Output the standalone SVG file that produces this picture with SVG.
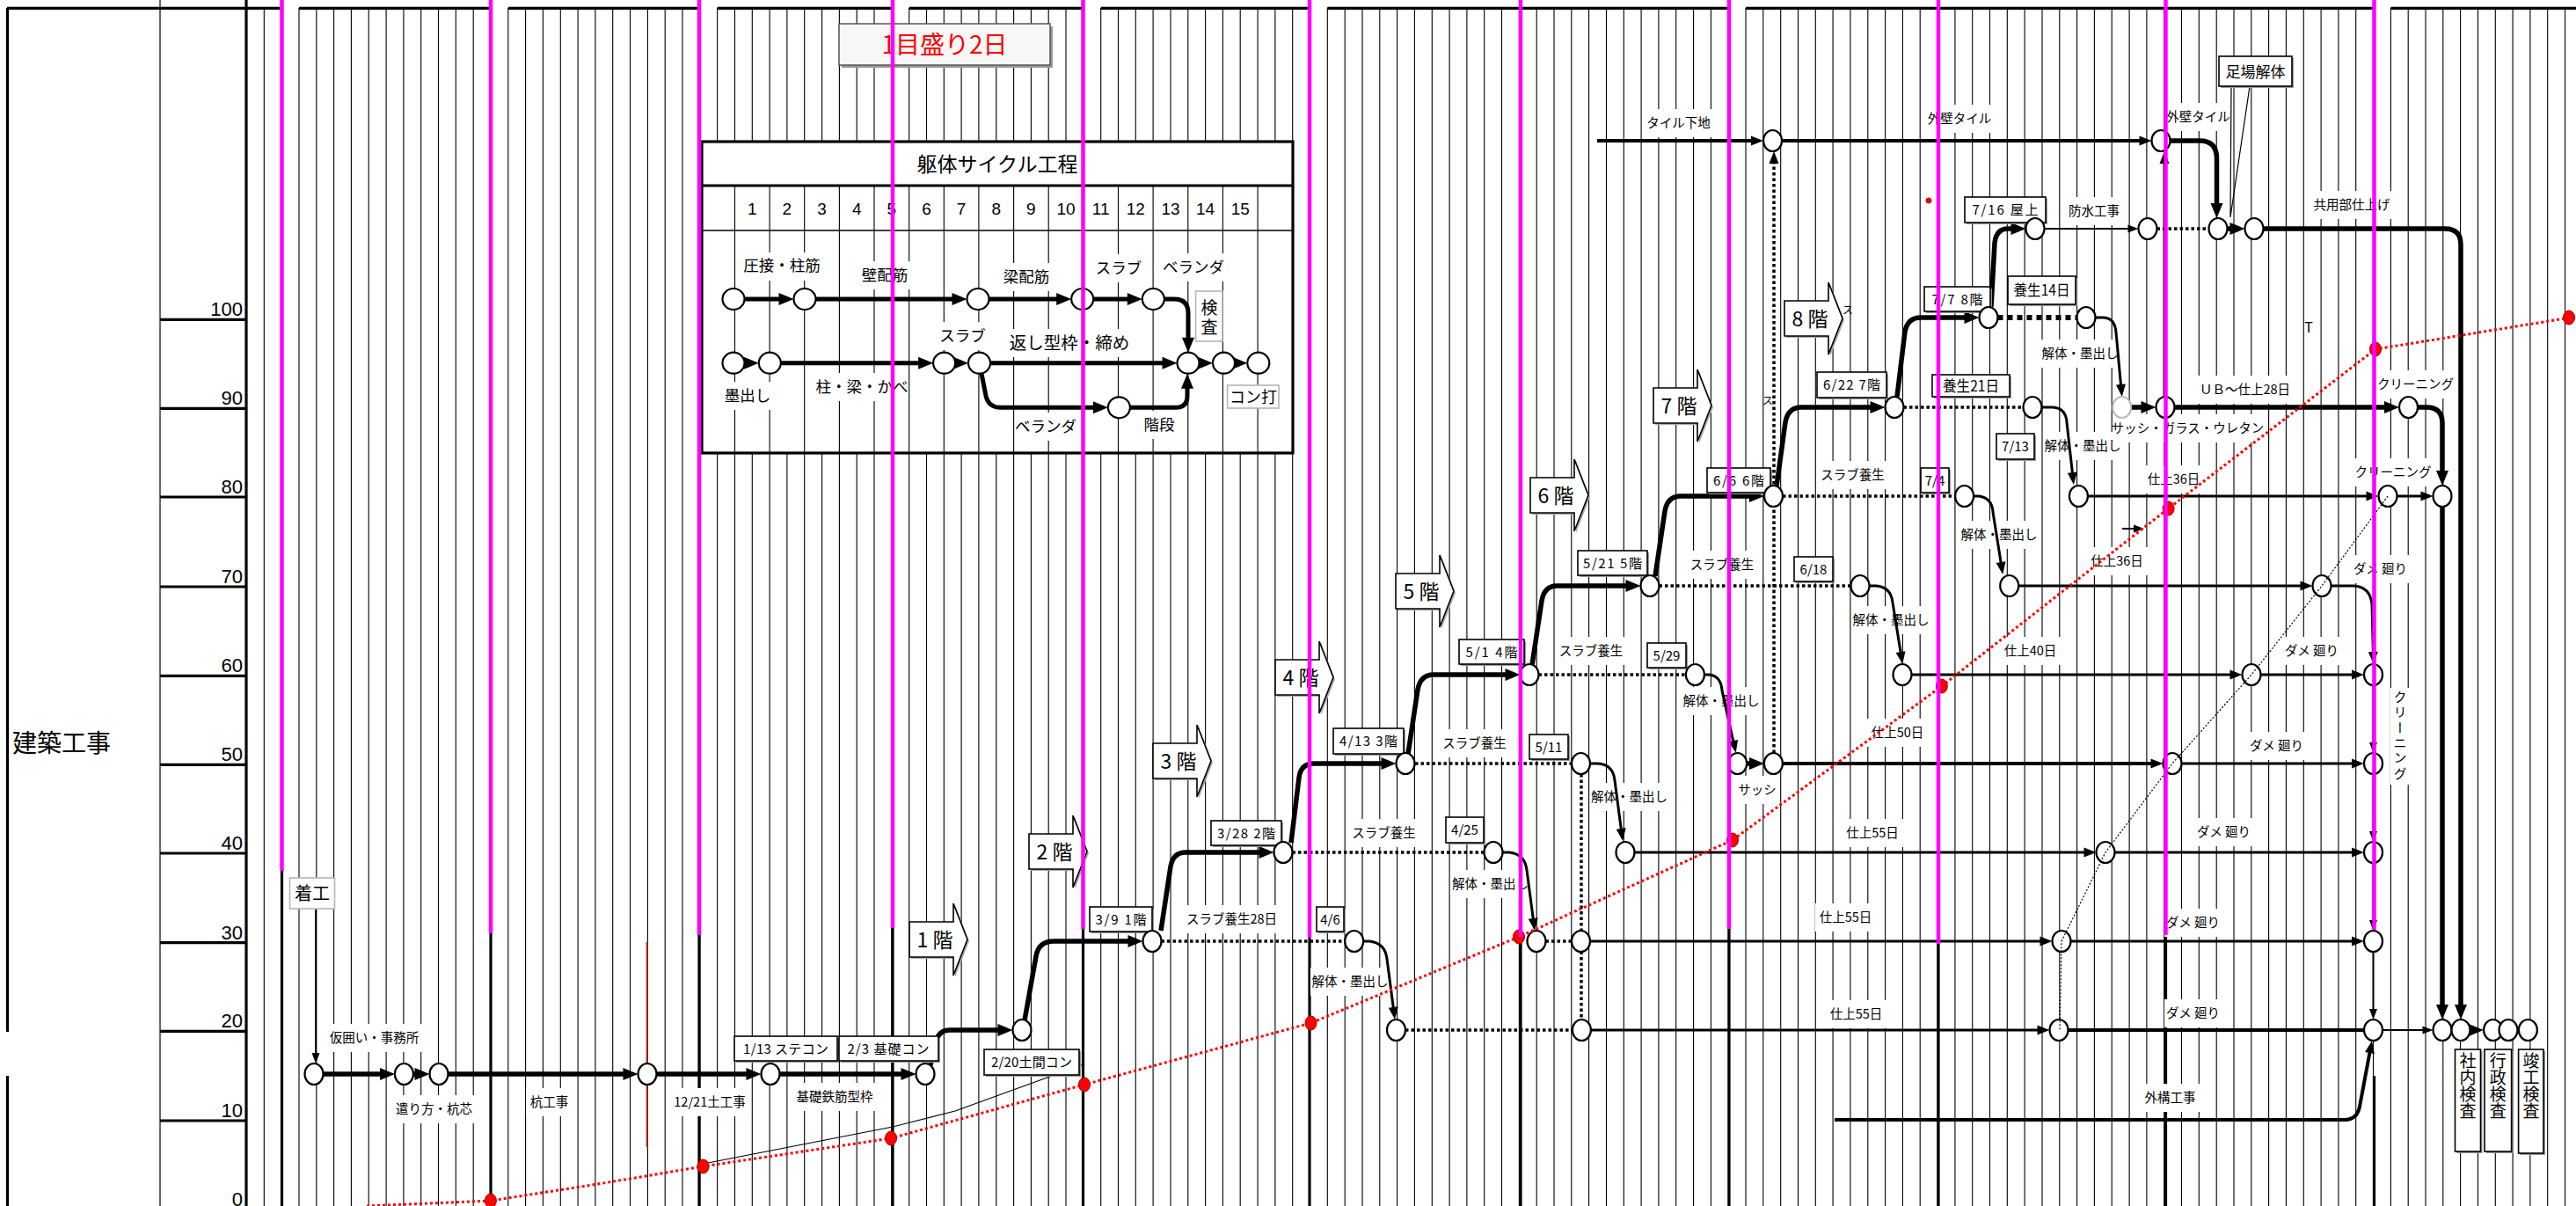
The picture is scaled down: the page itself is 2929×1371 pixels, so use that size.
<svg xmlns="http://www.w3.org/2000/svg" width="2929" height="1371" viewBox="0 0 2929 1371">
<defs>
<style>
.grid{stroke:#000;stroke-width:1.1;fill:none}
.frame{stroke:#000;stroke-width:3.2;fill:none}
.thin{stroke:#000;stroke-width:1.2;fill:none}
.mag{stroke:#ff00ff;stroke-width:4.5;fill:none}
.c6{stroke:#000;stroke-width:5.5;fill:none}
.c5{stroke:#000;stroke-width:5;fill:none}
.c4{stroke:#000;stroke-width:4;fill:none}
.c3{stroke:#000;stroke-width:3;fill:none}
.c2{stroke:#000;stroke-width:2;fill:none}
.dot{stroke:#000;stroke-width:3.5;stroke-dasharray:3.5 3;fill:none}
.hdot{stroke:#000;stroke-width:6;stroke-dasharray:6 5;fill:none}
.fdot{stroke:#000;stroke-width:1.2;stroke-dasharray:2 2;fill:none}
.rdot{stroke:#f00;stroke-width:3;stroke-dasharray:3 3;fill:none}
.nd{fill:#fff;stroke:#000;stroke-width:2.2}
.fd{fill:#fff;stroke:#bbb;stroke-width:2}
.rd{fill:#f00;stroke:#a00;stroke-width:1}
.wb{fill:#fff}
.bx{fill:#fff;stroke:#000;stroke-width:1.6}
.sh{fill:#9a9a9a}
.gbx{fill:#fff;stroke:#b5b5b5;stroke-width:1.6}
.blk{fill:#fff;stroke:#000;stroke-width:1.6}
.blks{fill:#aaa}
text{font-family:"Noto Sans CJK JP","Noto Sans CJK SC",sans-serif;fill:#000}
.lb{font-size:14.5px;text-anchor:middle}
.bt{font-size:15px;text-anchor:middle}
.ax{font-family:"Liberation Sans",Arial,sans-serif;font-size:22px;text-anchor:end}
.fl{font-size:23px;text-anchor:middle}
.cy{font-size:17.5px;text-anchor:middle}
.num{font-family:"Liberation Sans",Arial,sans-serif;font-size:19px;text-anchor:middle}
.vt{font-size:19px;writing-mode:vertical-rl}
</style>
<marker id="ah" markerUnits="userSpaceOnUse" markerWidth="18" markerHeight="15" refX="7" refY="7" orient="auto" overflow="visible"><path d="M0,0 L17,7 L0,14 z" fill="#000"/></marker>
<marker id="am" markerUnits="userSpaceOnUse" markerWidth="15" markerHeight="12" refX="6" refY="5.5" orient="auto" overflow="visible"><path d="M0,0 L14,5.5 L0,11 z" fill="#000"/></marker>
<marker id="as" markerUnits="userSpaceOnUse" markerWidth="13" markerHeight="10" refX="5" refY="4.5" orient="auto" overflow="visible"><path d="M0,0 L12,4.5 L0,9 z" fill="#000"/></marker>
<path id="barrow" d="M0,0 H50 V-21 L66,20 L50,61 V40 H0 Z"/>
</defs>
<rect x="0" y="0" width="2929" height="1371" fill="#fff"/>

<g id="grid">
<path class="grid" d="M300.3 9V1371M320.1 9V1371M340 9V1371M359.8 9V1371M379.6 9V1371M399.4 9V1371M419.2 9V1371M439.1 9V1371M458.9 9V1371M478.7 9V1371M498.5 9V1371M518.3 9V1371M538.2 9V1371M558 9V1371M577.8 9V1371M597.6 9V1371M617.4 9V1371M637.3 9V1371M657.1 9V1371M676.9 9V1371M696.7 9V1371M716.5 9V1371M736.4 9V1371M756.2 9V1371M776 9V1371M795.8 9V1371M815.6 9V1371M835.5 9V1371M855.3 9V1371M875.1 9V1371M894.9 9V1371M914.7 9V1371M934.6 9V1371M954.4 9V1371M974.2 9V1371M994 9V1371M1013.8 9V1371M1033.7 9V1371M1053.5 9V1371M1073.3 9V1371M1093.1 9V1371M1112.9 9V1371M1132.8 9V1371M1152.6 9V1371M1172.4 9V1371M1192.2 9V1371M1212 9V1371M1231.9 9V1371M1251.7 9V1371M1271.5 9V1371M1291.3 9V1371M1311.1 9V1371M1331 9V1371M1350.8 9V1371M1370.6 9V1371M1390.4 9V1371M1410.2 9V1371M1430.1 9V1371M1449.9 9V1371M1469.7 9V1371M1489.5 9V1371M1509.3 9V1371M1529.2 9V1371M1549 9V1371M1568.8 9V1371M1588.6 9V1371M1608.4 9V1371M1628.3 9V1371M1648.1 9V1371M1667.9 9V1371M1687.7 9V1371M1707.5 9V1371M1727.4 9V1371M1747.2 9V1371M1767 9V1371M1786.8 9V1371M1806.6 9V1371M1826.5 9V1371M1846.3 9V1371M1866.1 9V1371M1885.9 9V1371M1905.7 9V1371M1925.6 9V1371M1945.4 9V1371M1965.2 9V1371M1985 9V1371M2004.8 9V1371M2024.7 9V1371M2044.5 9V1371M2064.3 9V1371M2084.1 9V1371M2103.9 9V1371M2123.8 9V1371M2143.6 9V1371M2163.4 9V1371M2183.2 9V1371M2203 9V1371M2222.9 9V1371M2242.7 9V1371M2262.5 9V1371M2282.3 9V1371M2302.1 9V1371M2322 9V1371M2341.8 9V1371M2361.6 9V1371M2381.4 9V1371M2401.2 9V1371M2421.1 9V1371M2440.9 9V1371M2460.7 9V1371M2480.5 9V1371M2500.3 9V1371M2520.2 9V1371M2540 9V1371M2559.8 9V1371M2579.6 9V1371M2599.4 9V1371M2619.3 9V1371M2639.1 9V1371M2658.9 9V1371M2678.7 9V1371M2698.5 9V1371M2718.4 9V1371M2738.2 9V1371M2758 9V1371M2777.8 9V1371M2797.6 9V1371M2817.5 9V1371M2837.3 9V1371M2857.1 9V1371M2876.9 9V1371M2896.7 9V1371M2916.6 9V1371"/>
<path class="frame" d="M8,9.3 H320 M340,9.3 H558 M578,9.3 H795.8 M815.6,9.3 H1013.8 M1033.7,9.3 H1231.9 M1251.7,9.3 H1489.5 M1509.3,9.3 H1965.2 M1985,9.3 H2698.5 M2718.4,9.3 H2929"/>
<path class="frame" d="M8.5,9 V1173 M8.5,1223 V1371 M280,0 V1371"/>
<path class="thin" d="M182,0 V1371"/>
<path class="frame" d="M182,363.3 H280 M182,464.3 H280 M182,565 H280 M182,667 H280 M182,768.3 H280 M182,869.3 H280 M182,970 H280 M182,1071.7 H280 M182,1172.3 H280 M182,1274 H280"/>
<path class="frame" d="M320.5,990 V1371 M558,1061 V1371 M795,1063 V1371 M1015,1055 V1371 M1231.5,1056 V1371 M1489,1066 V1371 M1729,1065 V1371 M1966,1056 V1371 M2204,1073 V1371 M2462.5,1063 V1371 M2699.5,1223 V1371"/>
</g>

<g id="axis-labels">
<text class="ax" x="276" y="359">100</text>
<text class="ax" x="276" y="460">90</text>
<text class="ax" x="276" y="561">80</text>
<text class="ax" x="276" y="663">70</text>
<text class="ax" x="276" y="764">60</text>
<text class="ax" x="276" y="865">50</text>
<text class="ax" x="276" y="966">40</text>
<text class="ax" x="276" y="1068">30</text>
<text class="ax" x="276" y="1168">20</text>
<text class="ax" x="276" y="1270">10</text>
<text class="ax" x="276" y="1371">0</text>
<text x="14" y="855" font-size="28">建築工事</text>
</g>

<g id="scale-note">
<rect x="957" y="30" width="240" height="47" class="sh"/>
<rect x="954" y="27" width="240" height="47" fill="#f7f7f7" stroke="#555" stroke-width="1.5"/>
<text x="1074" y="61" font-size="28" text-anchor="middle" style="fill:#ff0000">1目盛り2日</text>
</g>

<g id="cycle">
<rect x="798" y="161" width="672" height="354" fill="#fff" stroke="#000" stroke-width="3.2"/>
<path class="frame" d="M798,211 H1470"/>
<path stroke="#000" stroke-width="1.5" d="M798,262 H1470"/>
<path class="grid" d="M835.5 211V515M875.1 211V515M914.7 211V515M954.4 211V515M994 211V515M1033.7 211V515M1073.3 211V515M1112.9 211V515M1152.6 211V515M1192.2 211V515M1231.9 211V515M1271.5 211V515M1311.1 211V515M1350.8 211V515M1390.4 211V515M1430.1 211V515"/>
<text x="1134" y="195" font-size="23" text-anchor="middle">躯体サイクル工程</text>
<text class="num" x="855.3" y="244">1</text>
<text class="num" x="894.9" y="244">2</text>
<text class="num" x="934.6" y="244">3</text>
<text class="num" x="974.2" y="244">4</text>
<text class="num" x="1013.8" y="244">5</text>
<text class="num" x="1053.5" y="244">6</text>
<text class="num" x="1093.1" y="244">7</text>
<text class="num" x="1132.8" y="244">8</text>
<text class="num" x="1172.4" y="244">9</text>
<text class="num" x="1212" y="244">10</text>
<text class="num" x="1251.7" y="244">11</text>
<text class="num" x="1291.3" y="244">12</text>
<text class="num" x="1331" y="244">13</text>
<text class="num" x="1370.6" y="244">14</text>
<text class="num" x="1410.2" y="244">15</text>
<rect class="wb" x="844" y="287" width="90" height="32"/>
<rect class="wb" x="975" y="297" width="63" height="32"/>
<rect class="wb" x="1137" y="299" width="60" height="32"/>
<rect class="wb" x="1246" y="289" width="52" height="32"/>
<rect class="wb" x="1322" y="288" width="70" height="32"/>
<rect class="wb" x="822" y="434" width="56" height="32"/>
<rect class="wb" x="932" y="424" width="97" height="32"/>
<rect class="wb" x="1068" y="366" width="53" height="32"/>
<rect class="wb" x="1147" y="374" width="137" height="32"/>
<rect class="wb" x="1154" y="469" width="71" height="32"/>
<rect class="wb" x="1297" y="467" width="43" height="32"/>
<path class="c5" d="M846.5,340 H892.5" marker-end="url(#ah)"/>
<path class="c5" d="M927.5,340 H1089.5" marker-end="url(#ah)"/>
<path class="c5" d="M1124.5,340 H1208.2" marker-end="url(#ah)"/>
<path class="c5" d="M1243.2,340 H1288.8" marker-end="url(#ah)"/>
<path class="c5" d="M1323.8,340 H1335 Q1351,340 1351,356 V390.7" marker-end="url(#ah)"/>
<path class="c5" d="M846.5,412.7 H852.8" marker-end="url(#ah)"/>
<path class="c5" d="M887.8,412.7 H1051.1" marker-end="url(#ah)"/>
<path class="c5" d="M1086.1,412.7 H1091" marker-end="url(#ah)"/>
<path class="c5" d="M1126,412.7 H1328.5" marker-end="url(#ah)"/>
<path class="c5" d="M1363.5,412.7 H1369" marker-end="url(#ah)"/>
<path class="c5" d="M1404,412.7 H1408.3" marker-end="url(#ah)"/>
<path class="c5" d="M1116,424.7 L1121,450 Q1124,463.3 1138,463.3 H1249.9" marker-end="url(#ah)"/>
<path class="c5" d="M1284.9,463.3 H1337 Q1350,463.3 1350,450 V434.7" marker-end="url(#ah)"/>
<g id="cn1"><ellipse class="nd" cx="834" cy="340" rx="12.5" ry="12"/></g>
<g id="cn2"><ellipse class="nd" cx="915" cy="340" rx="12.5" ry="12"/></g>
<g id="cn3"><ellipse class="nd" cx="1112" cy="340" rx="12.5" ry="12"/></g>
<g id="cn4"><ellipse class="nd" cx="1230.7" cy="340" rx="12.5" ry="12"/></g>
<g id="cn5"><ellipse class="nd" cx="1311.3" cy="340" rx="12.5" ry="12"/></g>
<g id="cm1"><ellipse class="nd" cx="834" cy="412.7" rx="12.5" ry="12"/></g>
<g id="cm2"><ellipse class="nd" cx="875.3" cy="412.7" rx="12.5" ry="12"/></g>
<g id="cm3"><ellipse class="nd" cx="1073.6" cy="412.7" rx="12.5" ry="12"/></g>
<g id="cm4"><ellipse class="nd" cx="1113.5" cy="412.7" rx="12.5" ry="12"/></g>
<g id="cm5"><ellipse class="nd" cx="1351" cy="412.7" rx="12.5" ry="12"/></g>
<g id="cm6"><ellipse class="nd" cx="1391.5" cy="412.7" rx="12.5" ry="12"/></g>
<g id="cm7"><ellipse class="nd" cx="1430.8" cy="412.7" rx="12.5" ry="12"/></g>
<g id="cp1"><ellipse class="nd" cx="1272.4" cy="463.3" rx="12.5" ry="12"/></g>
<g id="c-kensa"><rect class="gbx" x="1359.6" y="331" width="30.4" height="57"/><text x="1375" y="357" font-size="19" text-anchor="middle">検</text><text x="1375" y="379" font-size="19" text-anchor="middle">査</text></g>
<g id="c-konuchi"><rect class="gbx" x="1395.6" y="438" width="58.4" height="26"/><text x="1425" y="458" font-size="18" text-anchor="middle">コン打</text></g>
<text class="cy" x="889" y="308">圧接・柱筋</text>
<text class="cy" x="1006" y="319">壁配筋</text>
<text class="cy" x="1167" y="321">梁配筋</text>
<text class="cy" x="1272" y="311">スラブ</text>
<text class="cy" x="1357" y="310">ベランダ</text>
<text class="cy" x="850" y="456">墨出し</text>
<text class="cy" x="980" y="446">柱・梁・かべ</text>
<text class="cy" x="1094.5" y="388">スラブ</text>
<text x="1216" y="397" font-size="19.5" text-anchor="middle">返し型枠・締め</text>
<text class="cy" x="1189" y="491">ベランダ</text>
<text class="cy" x="1318" y="489">階段</text>
</g>

<g id="label-bg">
<rect class="wb" x="371" y="1164" width="109" height="32"/>
<rect class="wb" x="448" y="1245" width="91" height="32"/>
<rect class="wb" x="598" y="1237" width="53" height="32"/>
<rect class="wb" x="760" y="1237" width="94" height="32"/>
<rect class="wb" x="898" y="1231" width="102" height="32"/>
<rect class="wb" x="1346" y="1029" width="109" height="32"/>
<rect class="wb" x="1534" y="931" width="79" height="32"/>
<rect class="wb" x="1649" y="989" width="91" height="32"/>
<rect class="wb" x="1490" y="1100" width="90" height="32"/>
<rect class="wb" x="1637" y="829" width="79" height="32"/>
<rect class="wb" x="1808" y="890" width="89" height="32"/>
<rect class="wb" x="1770" y="724" width="78" height="32"/>
<rect class="wb" x="1912" y="781" width="90" height="32"/>
<rect class="wb" x="1975" y="882" width="46" height="32"/>
<rect class="wb" x="1919" y="626" width="78" height="32"/>
<rect class="wb" x="2106" y="689" width="88" height="32"/>
<rect class="wb" x="2066" y="524" width="81" height="32"/>
<rect class="wb" x="2229" y="592" width="88" height="32"/>
<rect class="wb" x="2323" y="491" width="90" height="32"/>
<rect class="wb" x="2321" y="386" width="88" height="32"/>
<rect class="wb" x="1869" y="124" width="79" height="32"/>
<rect class="wb" x="2188" y="119" width="80" height="32"/>
<rect class="wb" x="2461" y="117" width="77" height="32"/>
<rect class="wb" x="2346" y="224" width="70" height="32"/>
<rect class="wb" x="2623" y="217" width="102" height="32"/>
<rect class="wb" x="2407" y="471" width="161" height="32"/>
<rect class="wb" x="2499" y="427" width="107" height="32"/>
<rect class="wb" x="2702" y="421" width="89" height="32"/>
<rect class="wb" x="2677" y="521" width="88" height="32"/>
<rect class="wb" x="2438" y="529" width="67" height="32"/>
<rect class="wb" x="2372" y="622" width="70" height="32"/>
<rect class="wb" x="2674" y="631" width="65" height="32"/>
<rect class="wb" x="2274" y="724" width="69" height="32"/>
<rect class="wb" x="2595" y="724" width="67" height="32"/>
<rect class="wb" x="2123" y="817" width="69" height="32"/>
<rect class="wb" x="2557" y="832" width="63" height="32"/>
<rect class="wb" x="2718" y="782" width="22" height="110"/>
<rect class="wb" x="2094" y="931" width="70" height="32"/>
<rect class="wb" x="2496" y="930" width="65" height="32"/>
<rect class="wb" x="2064" y="1027" width="69" height="32"/>
<rect class="wb" x="2461" y="1033" width="65" height="32"/>
<rect class="wb" x="2076" y="1137" width="69" height="32"/>
<rect class="wb" x="2461" y="1136" width="65" height="32"/>
<rect class="wb" x="2433" y="1232" width="69" height="32"/>
</g>

<g id="floor-arrows">
<g id="fa1" transform="translate(1034,1048)"><use href="#barrow" class="blks" x="2" y="2"/><use href="#barrow" class="blk"/><text class="fl" x="29" y="29">1 階</text></g>
<g id="fa2" transform="translate(1170,948)"><use href="#barrow" class="blks" x="2" y="2"/><use href="#barrow" class="blk"/><text class="fl" x="29" y="29">2 階</text></g>
<g id="fa3" transform="translate(1311,845)"><use href="#barrow" class="blks" x="2" y="2"/><use href="#barrow" class="blk"/><text class="fl" x="29" y="29">3 階</text></g>
<g id="fa4" transform="translate(1450,750)"><use href="#barrow" class="blks" x="2" y="2"/><use href="#barrow" class="blk"/><text class="fl" x="29" y="29">4 階</text></g>
<g id="fa5" transform="translate(1587,652)"><use href="#barrow" class="blks" x="2" y="2"/><use href="#barrow" class="blk"/><text class="fl" x="29" y="29">5 階</text></g>
<g id="fa6" transform="translate(1740,543)"><use href="#barrow" class="blks" x="2" y="2"/><use href="#barrow" class="blk"/><text class="fl" x="29" y="29">6 階</text></g>
<g id="fa7" transform="translate(1880,441)"><use href="#barrow" class="blks" x="2" y="2"/><use href="#barrow" class="blk"/><text class="fl" x="29" y="29">7 階</text></g>
<g id="fa8" transform="translate(2029,342)"><use href="#barrow" class="blks" x="2" y="2"/><use href="#barrow" class="blk"/><text class="fl" x="29" y="29">8 階</text></g>
</g>

<g id="connectors">
<path class="c2" d="M359,1034 V1202" marker-end="url(#as)"/>
<path class="c6" d="M367.5,1221 H439" marker-end="url(#ah)"/>
<path class="c6" d="M470,1221 H478.5" marker-end="url(#ah)"/>
<path class="c6" d="M509.5,1221 H715.5" marker-end="url(#ah)"/>
<path class="c6" d="M746.5,1221 H855.5" marker-end="url(#ah)"/>
<path class="c6" d="M886.5,1221 H1031.5" marker-end="url(#ah)"/>
<path class="c6" d="M1058,1211 L1064,1185 Q1067,1171 1080,1171 H1141.5" marker-end="url(#ah)"/>
<path class="c6" d="M1165,1160 L1178,1087 Q1181,1070 1198,1070 H1289.5" marker-end="url(#ah)"/>
<path class="c6" d="M1320,1058 L1331,985 Q1334,969 1348,969 H1438.5" marker-end="url(#ah)"/>
<path class="c6" d="M1468,958 L1477,884 Q1479,868 1494,868 H1577.5" marker-end="url(#ah)"/>
<path class="c6" d="M1601,857 L1612,784 Q1615,767 1630,767 H1718.5" marker-end="url(#ah)"/>
<path class="c6" d="M1742,756 L1753,683 Q1756,666 1770,666 H1855.5" marker-end="url(#ah)"/>
<path class="c6" d="M1882,655 L1893,581 Q1896,564 1911,564 H1996" marker-end="url(#ah)"/>
<path class="c6" d="M2020,553 L2030,480 Q2033,463 2048,463 H2133.5" marker-end="url(#ah)"/>
<path class="c6" d="M2157,451 L2166,377 Q2169,361 2184,361 H2240.5" marker-end="url(#ah)"/>
<path class="c6" d="M2264,349 L2268,276 Q2270,260 2283,260 H2293.5" marker-end="url(#ah)"/>
<path class="c2" d="M2324.5,260 H2424.5" marker-end="url(#as)"/>
<path class="dot" d="M2452.5,260 H2511.5"/>
<path class="c6" d="M2532.5,260 H2542.5" marker-end="url(#ah)"/>
<path class="c6" d="M2573.5,260 H2780 Q2798,260 2798,278 V1149" marker-end="url(#ah)"/>
<path class="c4" d="M1816,160 H1997" marker-end="url(#am)"/>
<path class="c4" d="M2026,160 H2438.5" marker-end="url(#am)"/>
<path class="c6" d="M2467.5,160 H2501 Q2520.5,160 2520.5,180 V238" marker-end="url(#ah)"/>
<path class="dot" d="M2017,856 V180" marker-end="url(#am)"/>
<path class="c3" d="M2461,451 V180" marker-end="url(#am)"/>
<path class="hdot" d="M2271.5,361 H2361.5"/>
<path class="c3" d="M2382.5,361 H2392 Q2405,362 2406,378 L2412,443" marker-end="url(#am)"/>
<path class="dot" d="M2164.5,463 H2300.5"/>
<path class="c3" d="M2321.5,463 H2334 Q2349,464 2350,480 L2357,543" marker-end="url(#am)"/>
<path class="c6" d="M2423,463 H2441.5" marker-end="url(#ah)"/>
<path class="c6" d="M2472.5,463 H2718" marker-end="url(#ah)"/>
<path class="c6" d="M2749,463 H2759 Q2777,463 2777,481 V542" marker-end="url(#ah)"/>
<path class="c6" d="M2777,576 V1149" marker-end="url(#ah)"/>
<path class="dot" d="M2027,564 H2223"/>
<path class="c3" d="M2244,564 H2250 Q2265,566 2266,582 L2276,645" marker-end="url(#am)"/>
<path class="c3" d="M2374,564 H2696.5" marker-end="url(#am)"/>
<path class="c3" d="M2725.5,564 H2758.5" marker-end="url(#am)"/>
<path class="dot" d="M1886.5,666 H2104.5"/>
<path class="c3" d="M2125.5,666 H2133 Q2150,667 2152,685 L2162,747" marker-end="url(#am)"/>
<path class="c3" d="M2295,666 H2621.5" marker-end="url(#am)"/>
<path class="c3" d="M2650.5,666 H2676 Q2695,667 2697,687 L2698.5,747" marker-end="url(#am)"/>
<path class="dot" d="M1749.5,767 H1917"/>
<path class="c3" d="M1938,767 H1944 Q1957,769 1958,785 L1972,848" marker-end="url(#am)"/>
<path class="c3" d="M2173.5,767 H2541.5" marker-end="url(#am)"/>
<path class="c3" d="M2570.5,767 H2680" marker-end="url(#am)"/>
<path class="c2" d="M2698.5,779 V849" marker-end="url(#as)"/>
<path class="dot" d="M1609,868 H1787"/>
<path class="c3" d="M1808,868 H1817 Q1834,869 1836,887 L1844,948" marker-end="url(#am)"/>
<path class="dot" d="M1798,880 V1159"/>
<path class="c6" d="M1986,868 H1996" marker-end="url(#ah)"/>
<path class="c4" d="M2027,868 H2451.5" marker-end="url(#am)"/>
<path class="c3" d="M2480.5,868 H2680" marker-end="url(#am)"/>
<path class="c2" d="M2698.5,880 V950" marker-end="url(#as)"/>
<path class="dot" d="M1469.5,969 H1687.5"/>
<path class="c3" d="M1708.5,969 H1716 Q1734,971 1736,989 L1744,1050" marker-end="url(#am)"/>
<path class="c3" d="M1858.5,969 H2375.5" marker-end="url(#am)"/>
<path class="c3" d="M2404.5,969 H2680" marker-end="url(#am)"/>
<path class="c2" d="M2698.5,981 V1051" marker-end="url(#as)"/>
<path class="dot" d="M1320.5,1070 H1529"/>
<path class="c3" d="M1550,1070 H1557 Q1575,1072 1577,1090 L1585,1151" marker-end="url(#am)"/>
<path class="dot" d="M1757.5,1070 H1787"/>
<path class="c3" d="M1808,1070 H2325.5" marker-end="url(#am)"/>
<path class="c3" d="M2354.5,1070 H2680" marker-end="url(#am)"/>
<path class="c2" d="M2698.5,1082 V1152" marker-end="url(#as)"/>
<path class="dot" d="M1598,1171 H1788"/>
<path class="c3" d="M1809,1171 H2322.5" marker-end="url(#am)"/>
<path class="c4" d="M2351.5,1171 H2688"/>
<path class="c2" d="M2709,1171 H2759.5" marker-end="url(#as)"/>
<path class="c4" d="M2086,1273 H2666 Q2680,1273 2683,1258 L2695.5,1191" marker-end="url(#am)"/>
<path class="c6" d="M2808.5,1171 H2814" marker-end="url(#ah)"/>
<path class="c2" d="M2413,601 H2431" marker-end="url(#as)"/>
<path class="thin" d="M2537,98 L2536,247 M2558,98 L2536,247"/>
<path class="thin" d="M1232,1210 L1086,1263 L1015,1281 L805,1322"/>
<path d="M735.6,1071 V1304" stroke="#b8332a" stroke-width="2" fill="none"/>
</g>

<g id="date-boxes">
<g id="b-1-13"><rect class="sh" x="837" y="1180" width="117" height="28"/><rect class="bx" x="835" y="1178" width="117" height="28"/><text class="bt" x="893.5" y="1197.5" textLength="97" lengthAdjust="spacing">1/13 ステコン</text></g>
<g id="b-2-3"><rect class="sh" x="956" y="1180" width="113" height="28"/><rect class="bx" x="954" y="1178" width="113" height="28"/><text class="bt" x="1010" y="1197.5" textLength="93" lengthAdjust="spacing">2/3 基礎コン</text></g>
<g id="b-2-20"><rect class="sh" x="1121" y="1195" width="108" height="29"/><rect class="bx" x="1119" y="1193" width="108" height="29"/><text class="bt" x="1173" y="1213" textLength="92" lengthAdjust="spacing">2/20土間コン</text></g>
<g id="b-3-9"><rect class="sh" x="1241" y="1033" width="71" height="28"/><rect class="bx" x="1239" y="1031" width="71" height="28"/><text class="bt" x="1274.5" y="1050.5" textLength="58" lengthAdjust="spacing">3/9 1階</text></g>
<g id="b-3-28"><rect class="sh" x="1379" y="935" width="80" height="28"/><rect class="bx" x="1377" y="933" width="80" height="28"/><text class="bt" x="1417" y="952.5" textLength="66" lengthAdjust="spacing">3/28 2階</text></g>
<g id="b-4-13"><rect class="sh" x="1518" y="830" width="80" height="29"/><rect class="bx" x="1516" y="828" width="80" height="29"/><text class="bt" x="1556" y="848" textLength="66" lengthAdjust="spacing">4/13 3階</text></g>
<g id="b-5-1"><rect class="sh" x="1661" y="729" width="74" height="28"/><rect class="bx" x="1659" y="727" width="74" height="28"/><text class="bt" x="1696" y="746.5" textLength="59" lengthAdjust="spacing">5/1 4階</text></g>
<g id="b-5-21"><rect class="sh" x="1796" y="628" width="79" height="28"/><rect class="bx" x="1794" y="626" width="79" height="28"/><text class="bt" x="1833.5" y="645.5" textLength="67" lengthAdjust="spacing">5/21 5階</text></g>
<g id="b-6-6"><rect class="sh" x="1943" y="534" width="72" height="28"/><rect class="bx" x="1941" y="532" width="72" height="28"/><text class="bt" x="1977" y="551.5" textLength="58" lengthAdjust="spacing">6/6 6階</text></g>
<g id="b-6-22"><rect class="sh" x="2068" y="425" width="79" height="29"/><rect class="bx" x="2066" y="423" width="79" height="29"/><text class="bt" x="2105.5" y="443" textLength="65" lengthAdjust="spacing">6/22 7階</text></g>
<g id="b-7-7"><rect class="sh" x="2190" y="328" width="75" height="28"/><rect class="bx" x="2188" y="326" width="75" height="28"/><text class="bt" x="2225.5" y="345.5" textLength="58" lengthAdjust="spacing">7/7 8階</text></g>
<g id="b-7-16"><rect class="sh" x="2236" y="226" width="92" height="29"/><rect class="bx" x="2234" y="224" width="92" height="29"/><text class="bt" x="2280" y="244" textLength="75" lengthAdjust="spacing">7/16 屋上</text></g>
<g id="b-y14"><rect class="sh" x="2285" y="316" width="77" height="32"/><rect class="bx" x="2283" y="314" width="77" height="32"/><text x="2321.5" y="336" font-size="17" text-anchor="middle" textLength="64" lengthAdjust="spacingAndGlyphs">養生14日</text></g>
<g id="b-y21"><rect class="sh" x="2199" y="428" width="88" height="25"/><rect class="bx" x="2197" y="426" width="88" height="25"/><text x="2241" y="444.5" font-size="17" text-anchor="middle" textLength="64" lengthAdjust="spacingAndGlyphs">養生21日</text></g>
<g id="b-7-13"><rect class="sh" x="2272" y="495" width="43" height="29"/><rect class="bx" x="2270" y="493" width="43" height="29"/><text class="bt" x="2291.5" y="513">7/13</text></g>
<g id="b-7-4"><rect class="sh" x="2186" y="534" width="32" height="28"/><rect class="bx" x="2184" y="532" width="32" height="28"/><text class="bt" x="2200" y="551.5">7/4</text></g>
<g id="b-6-18"><rect class="sh" x="2042" y="635" width="44" height="28"/><rect class="bx" x="2040" y="633" width="44" height="28"/><text class="bt" x="2062" y="652.5">6/18</text></g>
<g id="b-5-29"><rect class="sh" x="1875" y="733" width="44" height="28"/><rect class="bx" x="1873" y="731" width="44" height="28"/><text class="bt" x="1895" y="750.5">5/29</text></g>
<g id="b-5-11"><rect class="sh" x="1741" y="837" width="44" height="28"/><rect class="bx" x="1739" y="835" width="44" height="28"/><text class="bt" x="1761" y="854.5">5/11</text></g>
<g id="b-4-25"><rect class="sh" x="1646" y="931" width="43" height="29"/><rect class="bx" x="1644" y="929" width="43" height="29"/><text class="bt" x="1665.5" y="949">4/25</text></g>
<g id="b-4-6"><rect class="sh" x="1499" y="1033" width="31" height="28"/><rect class="bx" x="1497" y="1031" width="31" height="28"/><text class="bt" x="1512.5" y="1050.5">4/6</text></g>
<g id="b-ashiba"><rect class="sh" x="2525" y="66" width="83" height="34"/><rect class="bx" x="2523" y="64" width="83" height="34"/><text x="2564.5" y="87.5" font-size="17" text-anchor="middle">足場解体</text></g>
<g id="b-chakko"><rect class="gbx" x="329.5" y="998" width="51" height="35"/><text x="355" y="1023" font-size="20" text-anchor="middle">着工</text></g>
<g id="b-shanai"><rect class="sh" x="2793.5" y="1195" width="29" height="116"/><rect class="bx" x="2791.5" y="1193" width="29" height="116"/><text class="vt" x="2806" y="1196">社内検査</text></g>
<g id="b-gyosei"><rect class="sh" x="2827" y="1195" width="30.6" height="116"/><rect class="bx" x="2825" y="1193" width="30.6" height="116"/><text class="vt" x="2840.3" y="1196">行政検査</text></g>
<g id="b-shunko"><rect class="sh" x="2865.6" y="1195" width="28.4" height="118"/><rect class="bx" x="2863.6" y="1193" width="28.4" height="118"/><text class="vt" x="2878" y="1196">竣工検査</text></g>
</g>

<g id="nodes">
<g id="n-chakko"><ellipse class="nd" cx="357" cy="1221" rx="10.5" ry="12"/></g>
<g id="n-karigakoi"><ellipse class="nd" cx="459.4" cy="1221" rx="10.5" ry="12"/></g>
<g id="n-yarikata"><ellipse class="nd" cx="499" cy="1221" rx="10.5" ry="12"/></g>
<g id="n-kui"><ellipse class="nd" cx="736" cy="1221" rx="10.5" ry="12"/></g>
<g id="n-stecon"><ellipse class="nd" cx="876" cy="1221" rx="10.5" ry="12"/></g>
<g id="n-kisocon"><ellipse class="nd" cx="1052" cy="1221" rx="10.5" ry="12"/></g>
<g id="n-domacon"><ellipse class="nd" cx="1162" cy="1171" rx="10.5" ry="12"/></g>
<g id="n-1f"><ellipse class="nd" cx="1310" cy="1070" rx="10.5" ry="12"/></g>
<g id="n-2f"><ellipse class="nd" cx="1459" cy="969" rx="10.5" ry="12"/></g>
<g id="n-3f"><ellipse class="nd" cx="1598" cy="868" rx="10.5" ry="12"/></g>
<g id="n-4f"><ellipse class="nd" cx="1739" cy="767" rx="10.5" ry="12"/></g>
<g id="n-5f"><ellipse class="nd" cx="1876" cy="666" rx="10.5" ry="12"/></g>
<g id="n-6f"><ellipse class="nd" cx="2016.5" cy="564" rx="10.5" ry="12"/></g>
<g id="n-7f"><ellipse class="nd" cx="2154" cy="463" rx="10.5" ry="12"/></g>
<g id="n-8f"><ellipse class="nd" cx="2261" cy="361" rx="10.5" ry="12"/></g>
<g id="n-rf"><ellipse class="nd" cx="2314" cy="260" rx="10.5" ry="12"/></g>
<g id="n-bosui"><ellipse class="nd" cx="2442" cy="260" rx="10.5" ry="12"/></g>
<g id="n-ashiba"><ellipse class="nd" cx="2522" cy="260" rx="10.5" ry="12"/></g>
<g id="n-kyoyo"><ellipse class="nd" cx="2563" cy="260" rx="10.5" ry="12"/></g>
<g id="n-tile1"><ellipse class="nd" cx="2015.5" cy="160" rx="10.5" ry="12"/></g>
<g id="n-tile2"><ellipse class="nd" cx="2457" cy="160" rx="10.5" ry="12"/></g>
<g id="n-y14"><ellipse class="nd" cx="2372" cy="361" rx="10.5" ry="12"/></g>
<g id="n-r90a"><ellipse class="fd" cx="2412.7" cy="463" rx="10.5" ry="12"/></g>
<g id="n-y21"><ellipse class="nd" cx="2311" cy="463" rx="10.5" ry="12"/></g>
<g id="n-r90b"><ellipse class="nd" cx="2462" cy="463" rx="10.5" ry="12"/></g>
<g id="n-r90c"><ellipse class="nd" cx="2738.5" cy="463" rx="10.5" ry="12"/></g>
<g id="n-r80d"><ellipse class="nd" cx="2777" cy="564" rx="10.5" ry="12"/></g>
<g id="n-r80b"><ellipse class="nd" cx="2363.4" cy="564" rx="10.5" ry="12"/></g>
<g id="n-r80a"><ellipse class="nd" cx="2233.6" cy="564" rx="10.5" ry="12"/></g>
<g id="n-r80c"><ellipse class="nd" cx="2715" cy="564" rx="10.5" ry="12"/></g>
<g id="n-r70b"><ellipse class="nd" cx="2284.7" cy="666" rx="10.5" ry="12"/></g>
<g id="n-r70a"><ellipse class="nd" cx="2115" cy="666" rx="10.5" ry="12"/></g>
<g id="n-r70c"><ellipse class="nd" cx="2640" cy="666" rx="10.5" ry="12"/></g>
<g id="n-r60b"><ellipse class="nd" cx="2163" cy="767" rx="10.5" ry="12"/></g>
<g id="n-r60a"><ellipse class="nd" cx="1927.4" cy="767" rx="10.5" ry="12"/></g>
<g id="n-r60c"><ellipse class="nd" cx="2560" cy="767" rx="10.5" ry="12"/></g>
<g id="n-r60d"><ellipse class="nd" cx="2698.5" cy="767" rx="10.5" ry="12"/></g>
<g id="n-sash1"><ellipse class="nd" cx="1975.6" cy="868" rx="10.5" ry="12"/></g>
<g id="n-sash2"><ellipse class="nd" cx="2016.4" cy="868" rx="10.5" ry="12"/></g>
<g id="n-r50a"><ellipse class="nd" cx="1797.5" cy="868" rx="10.5" ry="12"/></g>
<g id="n-r50c"><ellipse class="nd" cx="2470" cy="868" rx="10.5" ry="12"/></g>
<g id="n-r50d"><ellipse class="nd" cx="2698.5" cy="868" rx="10.5" ry="12"/></g>
<g id="n-r40b"><ellipse class="nd" cx="1848" cy="969" rx="10.5" ry="12"/></g>
<g id="n-r40a"><ellipse class="nd" cx="1698" cy="969" rx="10.5" ry="12"/></g>
<g id="n-r40c"><ellipse class="nd" cx="2394" cy="969" rx="10.5" ry="12"/></g>
<g id="n-r40d"><ellipse class="nd" cx="2698.5" cy="969" rx="10.5" ry="12"/></g>
<g id="n-r30a"><ellipse class="nd" cx="1539.7" cy="1070" rx="10.5" ry="12"/></g>
<g id="n-r30b"><ellipse class="nd" cx="1747" cy="1070" rx="10.5" ry="12"/></g>
<g id="n-r30c"><ellipse class="nd" cx="1797.5" cy="1070" rx="10.5" ry="12"/></g>
<g id="n-r30d"><ellipse class="nd" cx="2344" cy="1070" rx="10.5" ry="12"/></g>
<g id="n-r30e"><ellipse class="nd" cx="2698.5" cy="1070" rx="10.5" ry="12"/></g>
<g id="n-r20a"><ellipse class="nd" cx="1587.5" cy="1171" rx="10.5" ry="12"/></g>
<g id="n-r20b"><ellipse class="nd" cx="1798.4" cy="1171" rx="10.5" ry="12"/></g>
<g id="n-r20c"><ellipse class="nd" cx="2341" cy="1171" rx="10.5" ry="12"/></g>
<g id="n-r20d"><ellipse class="nd" cx="2698.5" cy="1171" rx="10.5" ry="12"/></g>
<g id="n-fin1"><ellipse class="nd" cx="2777" cy="1171" rx="10.5" ry="12"/></g>
<g id="n-fin2"><ellipse class="nd" cx="2798" cy="1171" rx="10.5" ry="12"/></g>
<g id="n-fin3"><ellipse class="nd" cx="2834.6" cy="1171" rx="10.5" ry="12"/></g>
<g id="n-fin4"><ellipse class="nd" cx="2852" cy="1171" rx="10.5" ry="12"/></g>
<g id="n-fin5"><ellipse class="nd" cx="2874.4" cy="1171" rx="10.5" ry="12"/></g>
</g>

<g id="dame-line">
<path class="fdot" d="M2715,564 L2640,666 L2560,767 L2470,868 L2394,969 L2344,1070 L2342,1171"/>
</g>

<g id="labels">
<text class="lb" x="425.5" y="1185">仮囲い・事務所</text>
<text class="lb" x="493.5" y="1266">遣り方・杭芯</text>
<text class="lb" x="624.5" y="1258">杭工事</text>
<text class="lb" x="807" y="1258">12/21土工事</text>
<text class="lb" x="949" y="1252">基礎鉄筋型枠</text>
<text class="lb" x="1400.5" y="1050">スラブ養生28日</text>
<text class="lb" x="1573.5" y="952">スラブ養生</text>
<text class="lb" x="1694.5" y="1010">解体・墨出し</text>
<text class="lb" x="1535" y="1121">解体・墨出し</text>
<text class="lb" x="1676.5" y="850">スラブ養生</text>
<text class="lb" x="1852.5" y="911">解体・墨出し</text>
<text class="lb" x="1809" y="745">スラブ養生</text>
<text class="lb" x="1957" y="802">解体・墨出し</text>
<text class="lb" x="1998" y="903">サッシ</text>
<text class="lb" x="1958" y="647">スラブ養生</text>
<text class="lb" x="2150" y="710">解体・墨出し</text>
<text class="lb" x="2106.5" y="545">スラブ養生</text>
<text class="lb" x="2273" y="613">解体・墨出し</text>
<text class="lb" x="2368" y="512">解体・墨出し</text>
<text class="lb" x="2365" y="407">解体・墨出し</text>
<text class="lb" x="1908.5" y="145">タイル下地</text>
<text class="lb" x="2228" y="140">外壁タイル</text>
<text class="lb" x="2499.5" y="138">外壁タイル</text>
<text class="lb" x="2381" y="245">防水工事</text>
<text class="lb" x="2674" y="238">共用部仕上げ</text>
<text class="lb" x="2487.5" y="492">サッシ・ガラス・ウレタン</text>
<text class="lb" x="2552.5" y="448">ＵＢ～仕上28日</text>
<text class="lb" x="2746.5" y="442">クリーニング</text>
<text class="lb" x="2721" y="542">クリーニング</text>
<text class="lb" x="2471.5" y="550">仕上36日</text>
<text class="lb" x="2407" y="643">仕上36日</text>
<text class="lb" x="2706.5" y="652">ダメ 廻り</text>
<text class="lb" x="2308.5" y="745">仕上40日</text>
<text class="lb" x="2628.5" y="745">ダメ 廻り</text>
<text class="lb" x="2157.5" y="838">仕上50日</text>
<text class="lb" x="2588.5" y="853">ダメ 廻り</text>
<text x="2729" y="785" font-size="15" letter-spacing="2.3" style="writing-mode:vertical-rl">クリーニング</text>
<text class="lb" x="2129" y="952">仕上55日</text>
<text class="lb" x="2528.5" y="951">ダメ 廻り</text>
<text class="lb" x="2098.5" y="1048">仕上55日</text>
<text class="lb" x="2493.5" y="1054">ダメ 廻り</text>
<text class="lb" x="2110.5" y="1158">仕上55日</text>
<text class="lb" x="2493.5" y="1157">ダメ 廻り</text>
<text class="lb" x="2467.5" y="1253">外構工事</text>
<text x="2101" y="357" font-size="12" text-anchor="middle">ス</text>
<text x="2010" y="460" font-size="12" text-anchor="middle">ス</text>
<text x="2625" y="378" font-size="16" text-anchor="middle" font-family="Liberation Sans, sans-serif">T</text>
</g>

<g id="progress-curve">
<polyline class="rdot" points="417,1371 557.9,1365 680,1346 799.4,1326 1013,1294 1233,1233 1490.5,1163 1727,1065 1970,955 2207.8,780 2465.6,578 2701,397 2929,360"/>
<ellipse class="rd" cx="557.9" cy="1365" rx="6.5" ry="8"/>
<ellipse class="rd" cx="799.4" cy="1326" rx="6.5" ry="8"/>
<ellipse class="rd" cx="1013" cy="1294" rx="6.5" ry="8"/>
<ellipse class="rd" cx="1233" cy="1233" rx="6.5" ry="8"/>
<ellipse class="rd" cx="1490.5" cy="1163" rx="6.5" ry="8"/>
<ellipse class="rd" cx="1727" cy="1065" rx="6.5" ry="8"/>
<ellipse class="rd" cx="1970" cy="955" rx="6.5" ry="8"/>
<ellipse class="rd" cx="2207.8" cy="780" rx="6.5" ry="8"/>
<ellipse class="rd" cx="2465.6" cy="578" rx="6.5" ry="8"/>
<ellipse class="rd" cx="2701" cy="397" rx="6.5" ry="8"/>
<ellipse class="rd" cx="2921" cy="361" rx="6.5" ry="8"/>
<circle class="rd" cx="2193" cy="228" r="3"/>
</g>

<g id="month-lines">
<path class="mag" d="M320.5,0 V990 M558,0 V1061 M795,0 V1063 M1015,0 V1055 M1231.5,0 V1056 M1489,0 V1066 M1729,0 V1065 M1966,0 V1056 M2204,0 V1073 M2462.5,0 V1063 M2699.5,0 V1057"/>
</g>
</svg>
